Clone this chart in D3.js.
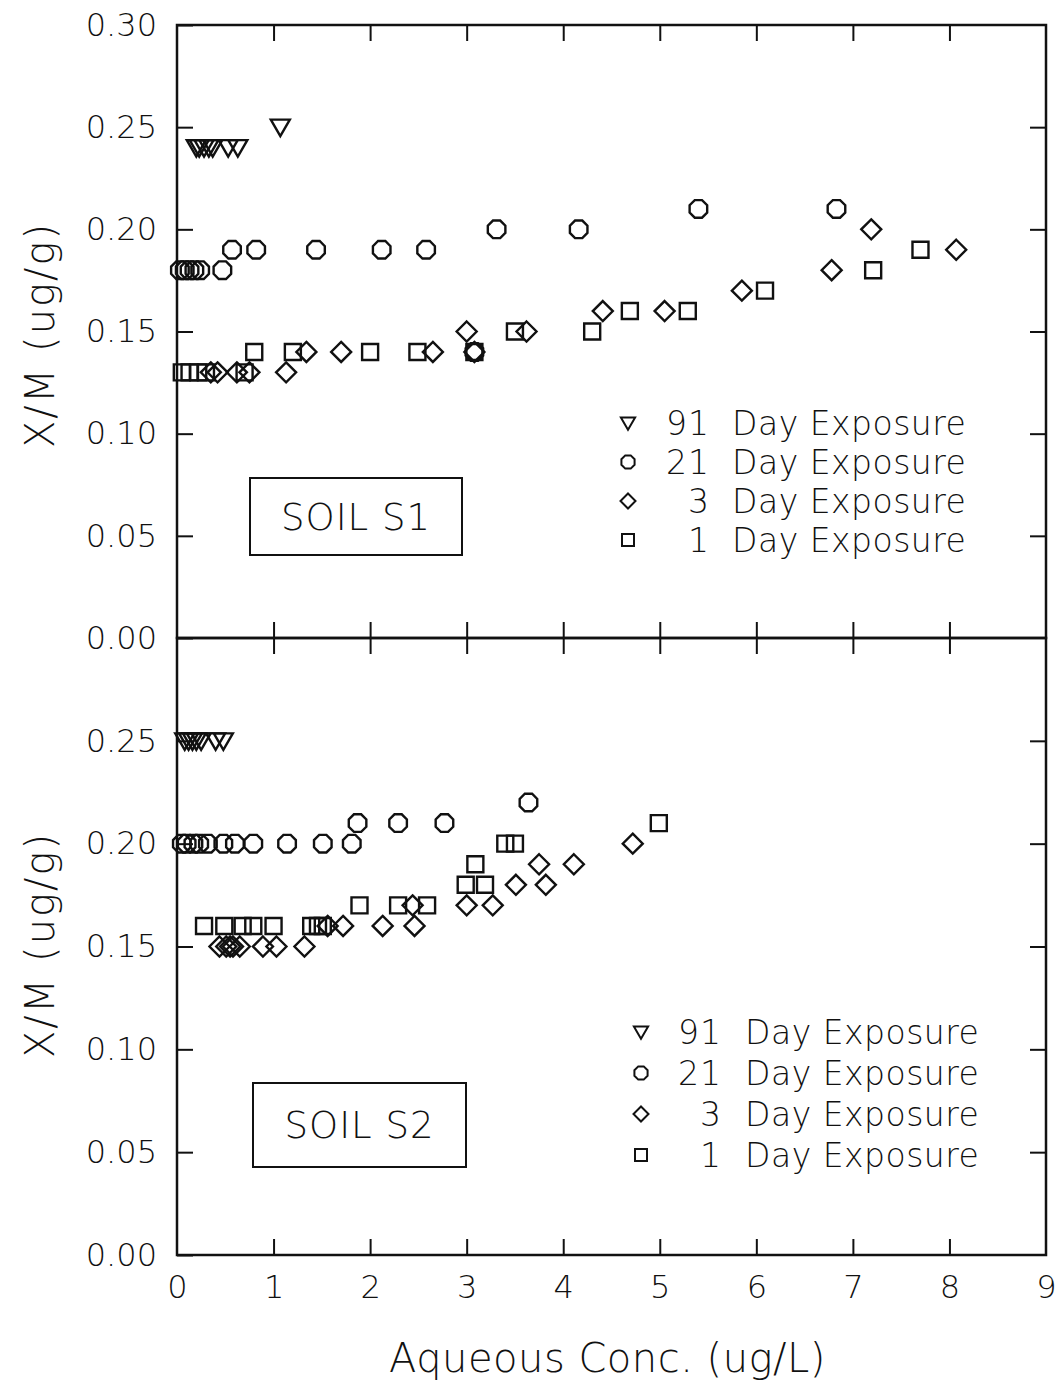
<!DOCTYPE html>
<html>
<head>
<meta charset="utf-8">
<script src="https://cdn.jsdelivr.net/npm/d3@7"></script>
<style>
body { margin: 0; background: #fff; }
svg text { font-family: "DejaVu Sans", "Liberation Sans", sans-serif; font-weight: 200; fill: #111; }
</style>
</head>
<body>
<div id="chart"></div>
<script>
'use strict';

// tick values
var xTicks = [0, 1, 2, 3, 4, 5, 6, 7, 8, 9];
var yTicksTop = [0, 0.05, 0.10, 0.15, 0.20, 0.25, 0.30];
var yTicksBottom = [0, 0.05, 0.10, 0.15, 0.20, 0.25];

// legend
var seriesDays = ["91", "21", "3", "1"];
var seriesShapes = ["triangle", "circle", "diamond", "square"];

// soil S1  [aqueous conc, x/m]
var s1Day91 = [[0.20,0.24],[0.23,0.24],[0.28,0.24],[0.33,0.24],[0.37,0.24],[0.53,0.24],[0.63,0.24],[1.07,0.25]];
var s1Day21 = [[0.03,0.18],[0.08,0.18],[0.13,0.18],[0.18,0.18],[0.24,0.18],[0.47,0.18],[0.57,0.19],[0.82,0.19],
               [1.44,0.19],[2.12,0.19],[2.58,0.19],[3.08,0.14],[3.31,0.20],[4.16,0.20],[5.40,0.21],[6.83,0.21]];
var s1Day3  = [[0.35,0.13],[0.42,0.13],[0.62,0.13],[0.75,0.13],[1.13,0.13],[1.34,0.14],[1.70,0.14],[2.65,0.14],
               [3.00,0.15],[3.08,0.14],[3.62,0.15],[4.41,0.16],[5.05,0.16],[5.85,0.17],[6.78,0.18],[7.19,0.20],[8.07,0.19]];
var s1Day1  = [[0.05,0.13],[0.13,0.13],[0.22,0.13],[0.30,0.13],[0.70,0.13],[0.80,0.14],[1.20,0.14],[2.00,0.14],
               [2.49,0.14],[3.08,0.14],[3.50,0.15],[4.30,0.15],[4.69,0.16],[5.29,0.16],[6.09,0.17],[7.21,0.18],[7.70,0.19]];

// soil S2
var s2Day91 = [[0.08,0.25],[0.12,0.25],[0.16,0.25],[0.20,0.25],[0.25,0.25],[0.40,0.25],[0.48,0.25]];
var s2Day21 = [[0.05,0.20],[0.10,0.20],[0.17,0.20],[0.23,0.20],[0.32,0.20],[0.48,0.20],[0.60,0.20],[0.79,0.20],
               [1.14,0.20],[1.51,0.20],[1.81,0.20],[1.87,0.21],[2.29,0.21],[2.77,0.21],[3.64,0.22]];
var s2Day3  = [[0.44,0.15],[0.51,0.15],[0.55,0.15],[0.58,0.15],[0.65,0.15],[0.89,0.15],[1.03,0.15],[1.32,0.15],
               [1.56,0.16],[1.72,0.16],[2.13,0.16],[2.46,0.16],[2.44,0.17],[3.00,0.17],[3.27,0.17],[3.51,0.18],
               [3.82,0.18],[3.75,0.19],[4.11,0.19],[4.72,0.20]];
var s2Day1  = [[0.28,0.16],[0.49,0.16],[0.68,0.16],[0.79,0.16],[1.00,0.16],[1.39,0.16],[1.46,0.16],[1.51,0.16],
               [1.89,0.17],[2.29,0.17],[2.59,0.17],[2.99,0.18],[3.19,0.18],[3.09,0.19],[3.40,0.20],[3.50,0.20],[4.99,0.21]];

function isothermChart() {
    var scope = {};
    var exports = {};

    scope.cw = 1057;
    scope.ch = 1385;
    scope.left = 177;
    scope.right = 1046;
    scope.top = 25;
    scope.mid = 638;
    scope.bottom = 1255;
    scope.tick = 16;

    scope.xScale = d3.scaleLinear().domain([0, 9]).range([scope.left, scope.right]);
    scope.yTop = d3.scaleLinear().domain([0, 0.30]).range([scope.mid, scope.top]);
    scope.yBottom = d3.scaleLinear().domain([0, 0.30]).range([scope.bottom, scope.mid]);

    // marker outlines, open like the plotter symbols
    scope.shapePath = function(shape, k) {
        var p;
        if (shape == "triangle") {
            p = [[-9.5, -7.5], [9.5, -7.5], [0, 9]];
        } else if (shape == "diamond") {
            p = [[0, -10], [10, 0], [0, 10], [-10, 0]];
        } else if (shape == "square") {
            p = [[-8, -8], [8, -8], [8, 8], [-8, 8]];
        } else {
            p = d3.range(8).map(function(i) {
                var a = Math.PI / 8 + i * Math.PI / 4;
                return [9.5 * Math.cos(a), 9.5 * Math.sin(a)];
            });
        }
        return "M" + p.map(function(d) { return (d[0] * k) + "," + (d[1] * k); }).join("L") + "Z";
    }

    scope.appendSvg = function(div) {
        return d3.select(div).append("svg")
            .attr("width", scope.cw)
            .attr("height", scope.ch);
    }

    scope.appendAxes = function(svg, yScale, yTicks, y0, y1) {
        var g = svg.append("g");

        g.append("g")
            .attr("transform", "translate(" + scope.left + ",0)")
            .call(d3.axisLeft(yScale).tickValues(yTicks).tickSizeInner(-scope.tick).tickSizeOuter(0)
                .tickPadding(20).tickFormat(d3.format(".2f")));

        g.append("g")
            .attr("transform", "translate(" + scope.right + ",0)")
            .call(d3.axisRight(yScale).tickValues(yTicks.filter(function(d) { return d > 0 && d < 0.3; }))
                .tickSizeInner(-scope.tick).tickSizeOuter(0).tickFormat(""));

        g.append("g")
            .attr("transform", "translate(0," + y0 + ")")
            .call(d3.axisTop(scope.xScale).tickValues(xTicks.slice(1, -1))
                .tickSizeInner(-scope.tick).tickSizeOuter(0).tickFormat(""));

        g.append("g")
            .attr("transform", "translate(0," + y1 + ")")
            .call(d3.axisBottom(scope.xScale).tickValues(xTicks.slice(1, -1))
                .tickSizeInner(-scope.tick).tickSizeOuter(0).tickFormat(""));

        g.selectAll(".domain").remove();
        g.selectAll(".tick line").attr("stroke", "#111").attr("stroke-width", 2);
        g.selectAll(".tick text").attr("font-size", 32).attr("fill", "#111")
            .style("font-family", "DejaVu Sans, sans-serif").style("font-weight", 200);

        g.append("rect")
            .attr("x", scope.left).attr("y", y0)
            .attr("width", scope.right - scope.left).attr("height", y1 - y0)
            .attr("fill", "none").attr("stroke", "#111").attr("stroke-width", 2.5);
    }

    scope.appendPoints = function(svg, yScale, seriesList) {
        seriesList.forEach(function(data, i) {
            svg.append("g").selectAll("path")
                .data(data)
                .enter().append("path")
                .attr("transform", function(d) {
                    return "translate(" + scope.xScale(d[0]) + "," + yScale(d[1]) + ")";
                })
                .attr("d", scope.shapePath(seriesShapes[i], 1))
                .attr("fill", "none")
                .attr("stroke", "#111")
                .attr("stroke-width", 2.4);
        });
    }

    scope.appendLegend = function(svg, sx, nx, tx, y0, dy) {
        var row = svg.append("g").attr("font-size", 33)
            .selectAll("g")
            .data(seriesDays)
            .enter().append("g")
            .attr("transform", function(d, i) { return "translate(0," + (y0 + i * dy) + ")"; });

        row.append("path")
            .attr("transform", "translate(" + sx + ",0)")
            .attr("d", function(d, i) { return scope.shapePath(seriesShapes[i], 0.75); })
            .attr("fill", "none").attr("stroke", "#111").attr("stroke-width", 2);

        row.append("text")
            .attr("x", nx).attr("dy", "0.36em")
            .attr("text-anchor", "end")
            .attr("letter-spacing", 1)
            .text(function(d) { return d; });

        row.append("text")
            .attr("x", tx).attr("dy", "0.36em")
            .attr("letter-spacing", 0.5)
            .text("Day Exposure");
    }

    scope.appendSoilBox = function(svg, x, y, w, h, label) {
        svg.append("rect")
            .attr("x", x).attr("y", y).attr("width", w).attr("height", h)
            .attr("fill", "none").attr("stroke", "#111").attr("stroke-width", 2);
        svg.append("text")
            .attr("x", x + w / 2).attr("y", y + h / 2).attr("dy", "0.36em")
            .attr("text-anchor", "middle").attr("font-size", 37)
            .attr("letter-spacing", 1)
            .text(label);
    }

    scope.appendTitles = function(svg) {
        [[scope.yTop, 335], [scope.yBottom, 945]].forEach(function(t) {
            svg.append("text")
                .attr("transform", "translate(40," + t[1] + ") rotate(-90)")
                .attr("dy", "0.36em")
                .attr("text-anchor", "middle").attr("font-size", 40)
                .attr("letter-spacing", 2)
                .text("X/M (ug/g)");
        });

        svg.append("text")
            .attr("x", (scope.left + scope.right) / 2 - 4).attr("y", 1358).attr("dy", "0.36em")
            .attr("text-anchor", "middle").attr("font-size", 40)
            .attr("letter-spacing", 0.5)
            .text("Aqueous Conc. (ug/L)");
    }

    exports.run = function(div) {
        var svg = scope.appendSvg(div);

        scope.appendAxes(svg, scope.yTop, yTicksTop, scope.top, scope.mid);
        scope.appendAxes(svg, scope.yBottom, yTicksBottom, scope.mid, scope.bottom);

        // x tick labels along the bottom only
        var xa = svg.append("g")
            .attr("transform", "translate(0," + scope.bottom + ")")
            .call(d3.axisBottom(scope.xScale).tickValues(xTicks).tickSize(0).tickPadding(20));
        xa.select(".domain").remove();
        xa.selectAll("text").attr("font-size", 32).attr("fill", "#111")
            .style("font-family", "DejaVu Sans, sans-serif").style("font-weight", 200);

        scope.appendPoints(svg, scope.yTop, [s1Day91, s1Day21, s1Day3, s1Day1]);
        scope.appendPoints(svg, scope.yBottom, [s2Day91, s2Day21, s2Day3, s2Day1]);

        scope.appendLegend(svg, 628, 710, 732, 423, 39);
        scope.appendLegend(svg, 641, 722, 745, 1032, 41);

        scope.appendSoilBox(svg, 250, 478, 212, 77, "SOIL S1");
        scope.appendSoilBox(svg, 253, 1083, 213, 84, "SOIL S2");

        scope.appendTitles(svg);
    }
    return exports;
}

isothermChart().run("#chart");
</script>
</body>
</html>
